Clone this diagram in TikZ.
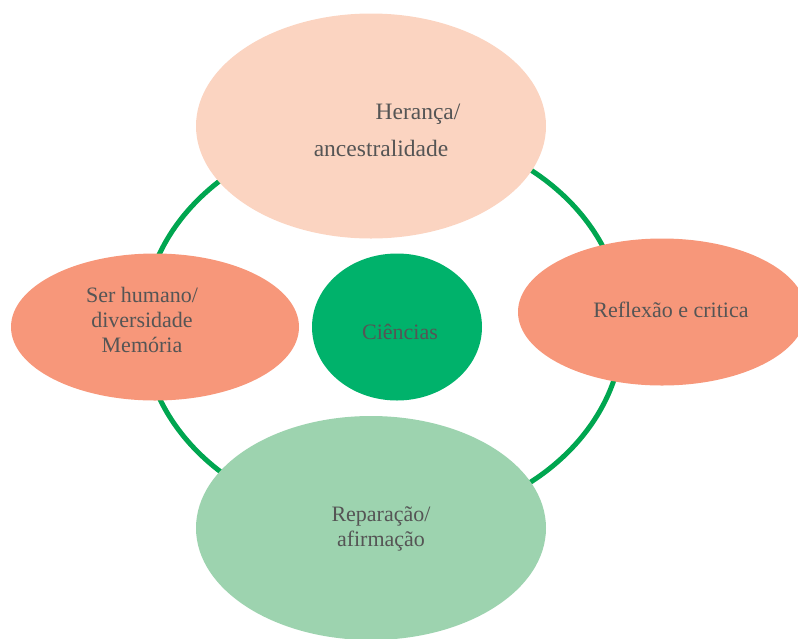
\documentclass[tikz,border=0pt]{standalone}
\usepackage{fontspec}
\setmainfont{Liberation Serif}
\usetikzlibrary{shapes.geometric}
\definecolor{ringgreen}{HTML}{00A650}
\definecolor{peach}{HTML}{FBD4C1}
\definecolor{salmon}{HTML}{F7977A}
\definecolor{midgreen}{HTML}{00B26B}
\definecolor{lightgreen}{HTML}{9DD3AF}
\definecolor{txt}{HTML}{555555}
\begin{document}
\begin{tikzpicture}[x=1pt,y=-1pt,
  blob/.style={ellipse, draw=none, inner sep=0pt},
  lbl/.style={text=txt, font=\fontsize{22}{25}\selectfont, align=center, inner sep=0pt},
  biglbl/.style={lbl, font=\fontsize{23.5}{26}\selectfont}]
\useasboundingbox (0,0) rectangle (798,638);
\coordinate (ringc) at (383,326);
\draw[ringgreen, line width=5pt] (ringc) ellipse [x radius=240, y radius=198];
\node[blob, fill=peach, minimum width=350pt, minimum height=225pt] (top) at (371,126) {};
\node[blob, fill=salmon, minimum width=288pt, minimum height=147pt] (left) at (155,327) {};
\node[blob, fill=salmon, minimum width=288pt, minimum height=147pt] (right) at (662,312) {};
\node[blob, fill=lightgreen, minimum width=350pt, minimum height=224pt] (bottom) at (371,528) {};
\node[blob, fill=midgreen, minimum width=170pt, minimum height=147pt] (center) at (397,327) {};
\node[biglbl] (t1) at (418,114) {Herança/};
\node[biglbl] (t2) at (381,148) {ancestralidade};
\node[lbl] (l1) at (142,320) {Ser humano/\\diversidade\\Memória};
\node[lbl] (c1) at (400,332) {Ciências};
\node[lbl] (r1) at (671,310) {Reflexão e critica};
\node[lbl] (b1) at (381,529) {Reparação/\\afirmação};
\end{tikzpicture}
\end{document}
